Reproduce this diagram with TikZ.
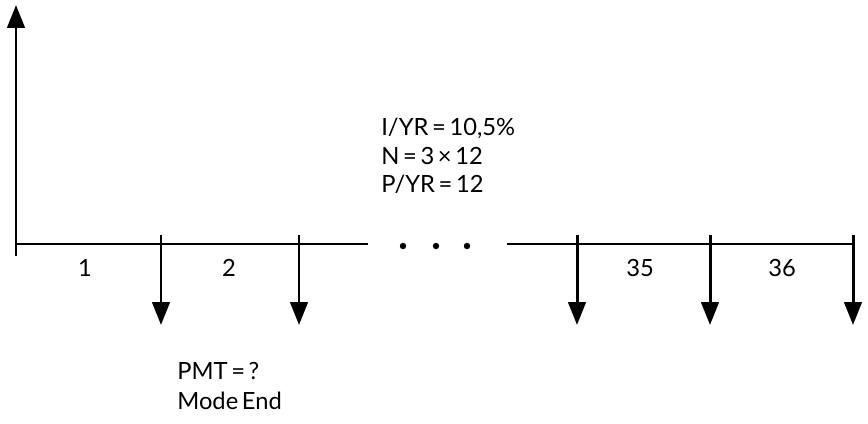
\documentclass[tikz,border=0pt]{standalone}
\usepackage{fontspec}
\setmainfont[WordSpace=0.6]{Lato}
\usetikzlibrary{calc,arrows.meta}

\tikzset{
    flow/.style={line width=1.7pt,-{Triangle[width=0.35cm,length=0.46cm]}},
    axisline/.style={line width=1.7pt},
    lbl/.style={inner sep=0pt,font=\fontsize{13.5}{16}\selectfont},
}

\begin{document}
\begin{tikzpicture}[x=0.02cm,y=-0.02cm]
        \useasboundingbox (0,0) rectangle (868,423);
        % axis
        \coordinate (o) at (16,244);
        \coordinate (top) at (16,5);
        \coordinate (gapl) at (368,244);
        \coordinate (gapr) at (507,244);
        \coordinate (end) at (853,244);
        \draw[flow] ($(o)+(0,12)$) -- (top);
        \draw[axisline] (o) -- (gapl);
        \draw[axisline] (gapr) -- (end);
        \foreach \x in {403,436,467}
        \fill (\x,246) circle (3.2);
        % payments
        \foreach \x/\name in {161/p1,299/p2,577/p35,710/p36,853/pend}
        {
            \coordinate (\name) at (\x,235);
            \draw[flow] (\name) -- ++(0,90);
        }
        % periods
        \node[lbl] (n1) at (85,268) {1};
        \node[lbl] (n2) at (229,268) {2};
        \node[lbl] (n35) at (640,268) {35};
        \node[lbl] (n36) at (782,268) {36};
        % data
        \node[lbl,anchor=base west] (iyr) at (381,135) {I/YR = 10,5\%};
        \node[lbl,anchor=base west] (nper) at (381,164) {N = 3 × 12};
        \node[lbl,anchor=base west] (pyr) at (381,192) {P/YR = 12};
        \node[lbl,anchor=base west] (pmt) at (177,379) {PMT = ?};
        \node[lbl,anchor=base west] (mode) at (177,409) {Mode End};
    \end{tikzpicture}
\end{document}
